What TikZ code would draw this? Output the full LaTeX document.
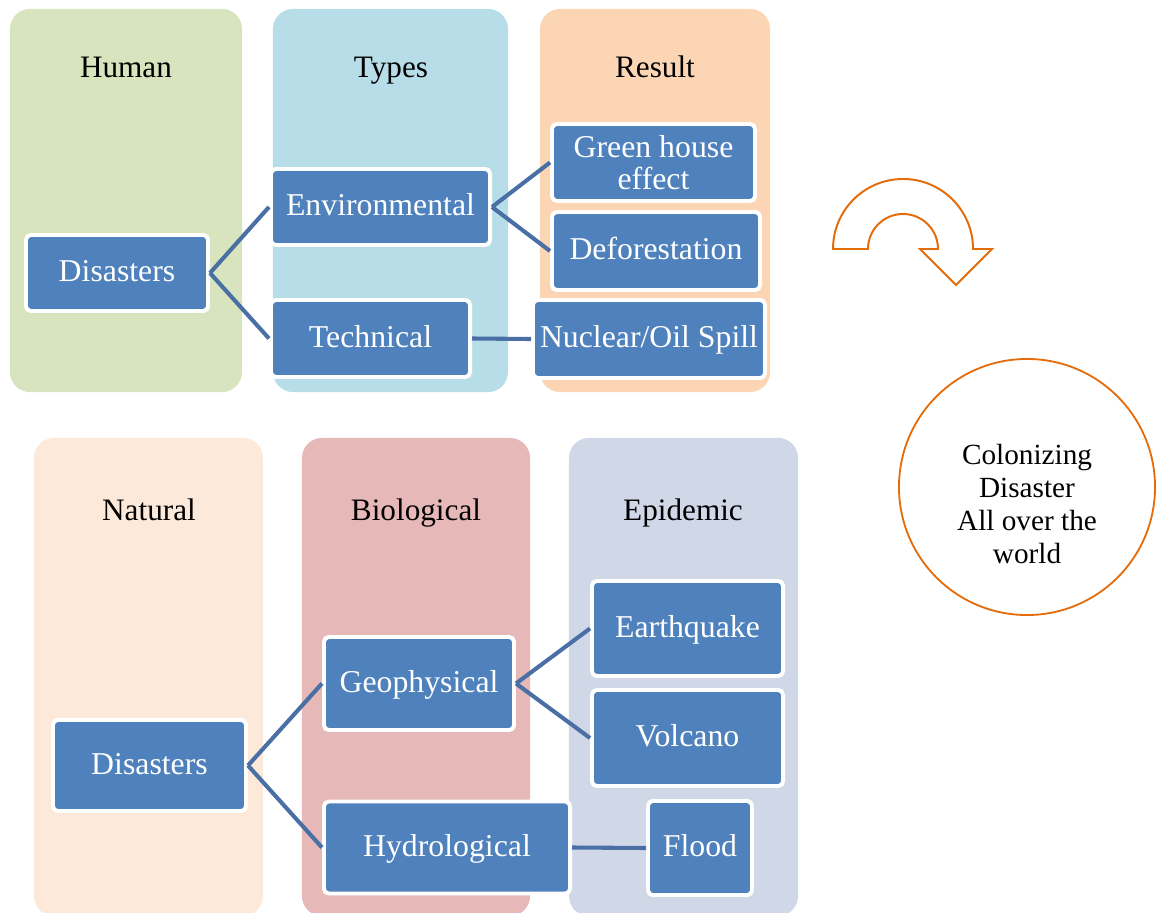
\documentclass[tikz,border=0pt]{standalone}
\usepackage{fontspec}
\setmainfont{Liberation Serif}
\usepackage{tikz}
\usepackage{xcolor}
\usetikzlibrary{shapes.geometric, arrows, positioning, calc}

\definecolor{boxblue}{HTML}{4F81BD}
\definecolor{linkblue}{RGB}{74,111,165}
\definecolor{humangreen}{HTML}{D7E4BD}
\definecolor{typesblue}{HTML}{B7DEE8}
\definecolor{resultorange}{HTML}{FCD5B5}
\definecolor{naturalpeach}{HTML}{FDE9D9}
\definecolor{biored}{HTML}{E6B9B8}
\definecolor{epigray}{HTML}{D0D8E8}
\definecolor{accent}{HTML}{E46C0A}

\begin{document}
\begin{tikzpicture}[x=0.025cm, y=-0.025cm]
    \tikzstyle{column} = [rectangle, rounded corners=0.5cm, inner sep=0pt]
    \tikzstyle{heading} = [anchor=base, font=\fontsize{22.2}{26}\selectfont]
    \tikzstyle{item} = [rectangle, rounded corners=0.12cm, draw=white, line width=2.8pt, fill=boxblue, text=white, inner sep=0pt, font=\fontsize{22.6}{23}\selectfont, align=center, text height=1.25em, text depth=0pt]
    \tikzstyle{link} = [draw=linkblue, line width=2.9pt]

    \useasboundingbox (0,0) rectangle (1164,913);

    % top row: human disasters
    \node[column, fill=humangreen, minimum width=5.8cm, minimum height=9.575cm] (colhuman) at (126,200.5) {};
    \node[column, fill=typesblue, minimum width=5.875cm, minimum height=9.575cm] (coltypes) at (390.5,200.5) {};
    \node[column, fill=resultorange, minimum width=5.75cm, minimum height=9.575cm] (colresult) at (655,200.5) {};
    \node[heading] (hhuman) at (126,77) {Human};
    \node[heading] (htypes) at (391,77) {Types};
    \node[heading] (hresult) at (655,77) {Result};

    \node[item, minimum width=4.55cm, minimum height=1.9cm] (hdis) at (117,273) {Disasters};
    \node[item, minimum width=5.475cm, minimum height=1.9cm] (env) at (380.5,207) {Environmental};
    \node[item, minimum width=4.975cm, minimum height=1.925cm] (tech) at (370.5,338.5) {Technical};
    \node[item, minimum width=5.075cm, minimum height=1.925cm, text height=, text depth=] (green) at (653.5,162.5) {Green house\\effect};
    \node[item, minimum width=5.2cm, minimum height=1.95cm] (defor) at (656,251) {Deforestation};
    \node[item, minimum width=5.8cm, minimum height=1.95cm] (nuc) at (649,339) {Nuclear/Oil Spill};

    \draw[link] (hdis.east) -- (env.west);
    \draw[link] (hdis.east) -- (tech.west);
    \draw[link] (env.east) -- (green.west);
    \draw[link] (env.east) -- (defor.west);
    \draw[link] (tech.east) -- (nuc.west);

    % bottom row: natural disasters
    \node[column, fill=naturalpeach, minimum width=5.725cm, minimum height=11.95cm] (colnatural) at (148.5,677) {};
    \node[column, fill=biored, minimum width=5.7cm, minimum height=11.95cm] (colbio) at (416,677) {};
    \node[column, fill=epigray, minimum width=5.725cm, minimum height=11.95cm] (colepi) at (683.5,677) {};
    \node[heading] (hnatural) at (149,520) {Natural};
    \node[heading] (hbio) at (416,520) {Biological};
    \node[heading] (hepi) at (683,520) {Epidemic};

    \node[item, minimum width=4.825cm, minimum height=2.275cm] (ndis) at (149.5,765.5) {Disasters};
    \node[item, minimum width=4.75cm, minimum height=2.325cm] (geo) at (419,683.5) {Geophysical};
    \node[item, minimum width=6.15cm, minimum height=2.3cm] (hydro) at (447,847.5) {Hydrological};
    \node[item, minimum width=4.775cm, minimum height=2.375cm] (quake) at (687.5,628.5) {Earthquake};
    \node[item, minimum width=4.775cm, minimum height=2.4cm] (volc) at (687.5,738) {Volcano};
    \node[item, minimum width=2.6cm, minimum height=2.35cm] (flood) at (700,848) {Flood};

    \draw[link] (ndis.east) -- (geo.west);
    \draw[link] (ndis.east) -- (hydro.west);
    \draw[link] (geo.east) -- (quake.west);
    \draw[link] (geo.east) -- (volc.west);
    \draw[link] (hydro.east) -- (flood.west);

    % u-turn arrow and circle
    \draw[draw=accent, fill=white, line width=1.4pt, line join=miter]
        (833,249) arc[start angle=180, end angle=0, radius=1.75cm]
        -- (992,249) -- (956,285) -- (920,249) -- (938,249)
        arc[start angle=0, end angle=180, radius=0.875cm] -- cycle;
    \node[circle, draw=accent, line width=1.3pt, minimum size=6.4cm] (world) at (1027,487) {};
    \node[align=center, font=\fontsize{20.8}{23.5}\selectfont] (worldtext) at (1027,504) {Colonizing\\Disaster\\All over the\\world};
\end{tikzpicture}
\end{document}
